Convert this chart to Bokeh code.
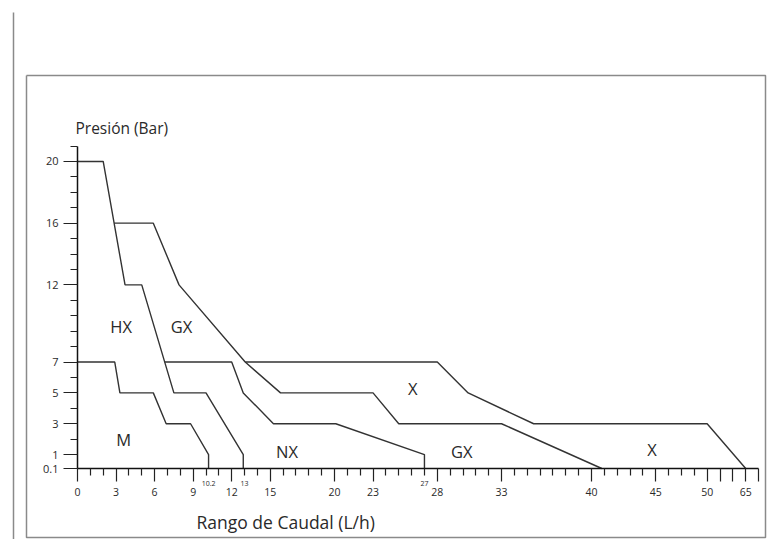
import numpy as np
from bokeh.plotting import figure
from bokeh.models import FixedTicker, Range1d
from bokeh.core.properties import value
from bokeh.embed import file_html
from bokeh.resources import INLINE

# ---------------- data ----------------
x_tick_flows = [0, 3, 6, 9, 12, 15, 20, 23, 28, 33, 40, 45, 50, 65]
x_tick_labels = ["0", "3", "6", "9", "12", "15", "20", "23", "28", "33", "40", "45", "50", "65"]
small_tick_flows = [10.2, 13, 27]
small_tick_labels = ["10.2", "13", "27"]
y_ticks = [0.1, 1, 3, 5, 7, 12, 16, 20]
y_tick_labels = ["0.1", "1", "3", "5", "7", "12", "16", "20"]
y_minor = [2, 4, 6, 8, 9, 10, 11, 13, 14, 15, 17, 18, 19, 21]

# boundary curves: flow (L/h) vs pressure (bar)
m_flow = [0, 2.9, 3.3, 5.9, 6.9, 8.8, 10.2, 10.2]
m_pres = [7, 7, 5, 5, 3, 3, 1, 0.1]
hx_flow = [0, 2.0, 3.7, 5.0, 7.5, 10.0, 12.9, 12.9]
hx_pres = [20, 20, 12, 12, 5, 5, 1, 0.1]
nx_flow = [6.8, 12.0, 12.9, 15.25, 20.1, 27, 27]
nx_pres = [7, 7, 5, 3, 3, 1, 0.1]
gx_flow = [2.85, 5.9, 7.9, 13.05, 15.8, 23, 25, 33, 40.8]
gx_pres = [16, 16, 12, 7, 5, 5, 3, 3, 0.1]
x_flow = [13.05, 28, 30.4, 35.5, 50, 65]
x_pres = [7, 7, 5, 3, 3, 0.1]

region_names = ["HX", "GX", "M", "NX", "X", "GX", "X"]
region_flow = [3.4, 8.1, 3.6, 16.3, 26.1, 29.9, 44.7]
region_pres = [9.3, 9.3, 2.0, 1.2, 5.3, 1.2, 1.3]

y_title = "Presión (Bar)"
x_title = "Rango de Caudal (L/h)"

# broken flow axis: flow value -> axis position
axis_knots_flow = [0, 45, 50, 65]
axis_knots_pos = [0, 45, 49, 52]


def fx(v):
    return [float(t) for t in np.interp(v, axis_knots_flow, axis_knots_pos)]


# ---------------- layout helpers (pixel -> data) ----------------
W, H = 776, 539
X0, PX_X = 77.0, 12.85      # pixel of axis position 0, pixels per unit
Y0, PX_Y = 468.0, 15.43     # pixel of pressure 0.1, pixels per bar


def sx(px):
    return (px - X0) / PX_X


def sy(py):
    return 0.1 + (Y0 - py) / PX_Y


FONT = "Open Sans"
INK = "#2a2a2a"

p = figure(width=W, height=H, x_range=Range1d(sx(0), sx(W)), y_range=Range1d(sy(H), sy(0)),
           output_backend="svg", toolbar_location=None, min_border=0)
p.outline_line_color = None
p.xgrid.visible = False
p.ygrid.visible = False

# x axis (fixed inside the canvas)
major_pos = fx(x_tick_flows) + [50, 51, 53]
minor_pos = [i for i in range(0, 54) if i not in major_pos]
p.xaxis.fixed_location = 0.1
p.xaxis.bounds = (0, 53)
p.xaxis.ticker = FixedTicker(ticks=major_pos, minor_ticks=minor_pos)
overrides = {pp: lab for pp, lab in zip(fx(x_tick_flows), x_tick_labels)}
for extra in [50, 51, 53]:
    overrides[extra] = ""
p.xaxis.major_label_overrides = overrides
p.xaxis.major_tick_out = 13
p.xaxis.major_tick_in = 0
p.xaxis.minor_tick_out = 7
p.xaxis.minor_tick_in = 0
p.xaxis.major_label_standoff = 6
p.xaxis.major_label_text_font_size = "10.5px"

# y axis
p.yaxis.fixed_location = 0
p.yaxis.bounds = (0.1, 21)
p.yaxis.ticker = FixedTicker(ticks=y_ticks, minor_ticks=y_minor)
p.yaxis.major_label_overrides = {t: lab for t, lab in zip(y_ticks, y_tick_labels)}
p.yaxis.major_tick_out = 14
p.yaxis.major_tick_in = 0
p.yaxis.minor_tick_out = 7
p.yaxis.minor_tick_in = 0
p.yaxis.major_label_standoff = 5
p.yaxis.major_label_text_font_size = "11px"

for ax in (p.xaxis, p.yaxis):
    ax.axis_line_color = "#111111"
    ax.axis_line_width = 1.5
    ax.major_tick_line_color = "#222222"
    ax.major_tick_line_width = 1.2
    ax.minor_tick_line_color = "#222222"
    ax.minor_tick_line_width = 1.2
    ax.major_label_text_font = FONT
    ax.major_label_text_color = INK

# boundary curves
for fl, pr in [(m_flow, m_pres), (hx_flow, hx_pres), (nx_flow, nx_pres),
               (gx_flow, gx_pres), (x_flow, x_pres)]:
    p.line(fx(fl), pr, line_color="#333333", line_width=1.4)

# region labels
p.text(x=fx(region_flow), y=region_pres, text=region_names,
       text_font=value(FONT), text_font_size="16.5px", text_color=INK,
       text_align="center", text_baseline="middle")

# small tick labels
p.text(x=fx(small_tick_flows), y=[sy(483)] * len(small_tick_flows), text=small_tick_labels,
       text_font=value(FONT), text_font_size="7px", text_color=INK,
       text_align="center", text_baseline="middle")

# axis titles
p.text(x=[sx(75)], y=[sy(127)], text=[y_title], text_font=value(FONT),
       text_font_size="15.5px", text_color=INK, text_align="left", text_baseline="middle")
p.text(x=[sx(196)], y=[sy(521)], text=[x_title], text_font=value(FONT),
       text_font_size="17.5px", text_color=INK, text_align="left", text_baseline="middle")

# outer frame box and left rule
bx = [sx(26), sx(765), sx(765), sx(26), sx(26)]
by = [sy(75), sy(75), sy(537), sy(537), sy(75)]
p.line(bx, by, line_color="#8a8a8a", line_width=1.5)
p.line([sx(13), sx(13)], [sy(12), sy(H)], line_color="#8a8a8a", line_width=1.5)

open("out.html", "w").write(file_html(p, INLINE))
